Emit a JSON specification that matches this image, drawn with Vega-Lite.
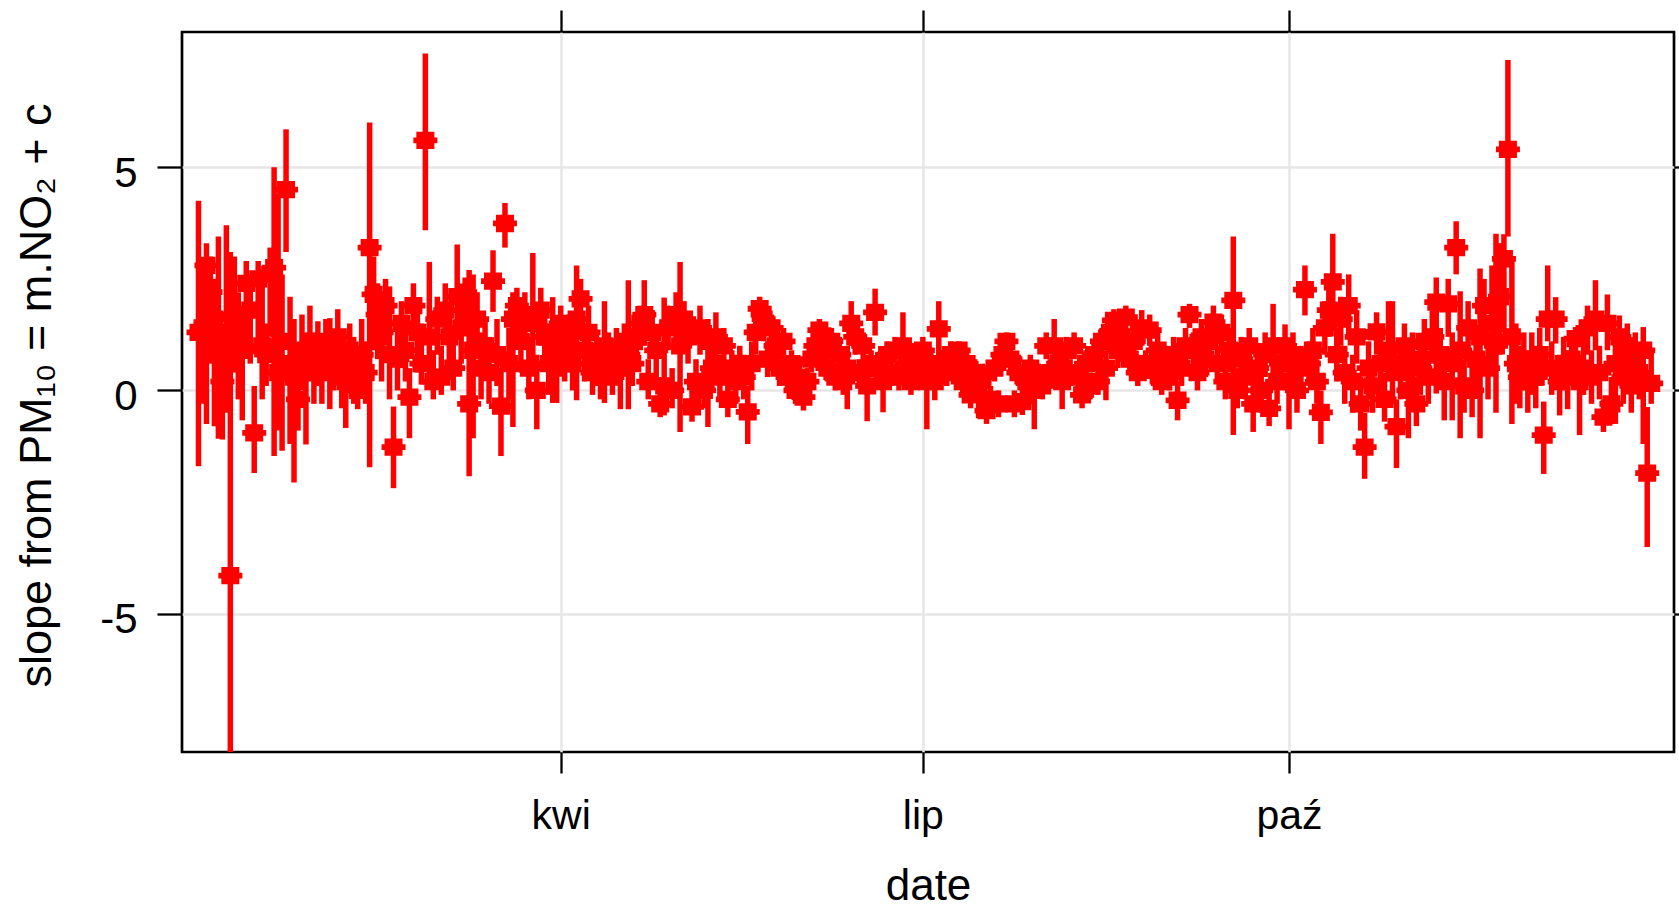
{
  "$schema": "https://vega.github.io/schema/vega-lite/v6.json",
  "width": 1492,
  "height": 720,
  "autosize": {"type": "none"},
  "padding": {"left": 182, "top": 32, "right": 5, "bottom": 160},
  "background": "white",
  "config": {
    "view": {"stroke": "black", "strokeWidth": 2.7},
    "font": "Liberation Sans",
    "axis": {
      "labelFont": "Liberation Sans",
      "titleFont": "Liberation Sans",
      "labelColor": "black",
      "titleColor": "black",
      "tickColor": "black",
      "tickWidth": 2.3,
      "domain": false,
      "gridColor": "#e6e6e6",
      "gridWidth": 2.5,
      "titleFontWeight": "normal",
      "labelOverlap": false,
      "labelFlush": false
    }
  },
  "data": {
    "values": [
      {"date":"2004-01-01","s":1.3,"lo":-1.7,"hi":4.25},
      {"date":"2004-01-02","s":1.4,"lo":-0.3,"hi":2.9},
      {"date":"2004-01-03","s":2.8,"lo":-0.75,"hi":3.3},
      {"date":"2004-01-04","s":2.2,"lo":0.6,"hi":3.0},
      {"date":"2004-01-05","s":1.6,"lo":-0.8,"hi":2.5},
      {"date":"2004-01-06","s":1.2,"lo":-1.08,"hi":3.45},
      {"date":"2004-01-07","s":0.2,"lo":-1.1,"hi":1.5},
      {"date":"2004-01-08","s":1.0,"lo":-0.5,"hi":3.7},
      {"date":"2004-01-09","s":-4.15,"lo":-8.5,"hi":3.1},
      {"date":"2004-01-10","s":1.7,"lo":0.4,"hi":3.0},
      {"date":"2004-01-11","s":1.3,"lo":-0.2,"hi":2.2},
      {"date":"2004-01-12","s":0.9,"lo":-0.67,"hi":1.8},
      {"date":"2004-01-13","s":2.4,"lo":1.0,"hi":2.9},
      {"date":"2004-01-14","s":1.8,"lo":0.6,"hi":2.6},
      {"date":"2004-01-15","s":-0.95,"lo":-1.85,"hi":0.1},
      {"date":"2004-01-16","s":2.5,"lo":0.9,"hi":2.9},
      {"date":"2004-01-17","s":1.0,"lo":-0.2,"hi":2.5},
      {"date":"2004-01-18","s":0.8,"lo":0.1,"hi":1.5},
      {"date":"2004-01-19","s":2.6,"lo":1.2,"hi":3.2},
      {"date":"2004-01-20","s":2.75,"lo":-1.47,"hi":5.0},
      {"date":"2004-01-21","s":0.4,"lo":-0.9,"hi":4.4},
      {"date":"2004-01-22","s":1.1,"lo":-1.35,"hi":2.6},
      {"date":"2004-01-23","s":4.5,"lo":3.1,"hi":5.85},
      {"date":"2004-01-24","s":0.6,"lo":-1.2,"hi":2.1},
      {"date":"2004-01-25","s":0.3,"lo":-2.06,"hi":1.6},
      {"date":"2004-01-26","s":-0.2,"lo":-0.9,"hi":0.9},
      {"date":"2004-01-27","s":0.9,"lo":0.0,"hi":1.7},
      {"date":"2004-01-28","s":0.5,"lo":-1.21,"hi":1.3},
      {"date":"2004-01-29","s":1.0,"lo":0.2,"hi":1.9},
      {"date":"2004-01-30","s":0.7,"lo":-0.3,"hi":1.3},
      {"date":"2004-01-31","s":0.9,"lo":0.1,"hi":1.55},
      {"date":"2004-02-01","s":0.4,"lo":-0.3,"hi":1.2},
      {"date":"2004-02-02","s":1.1,"lo":0.3,"hi":1.6},
      {"date":"2004-02-03","s":0.6,"lo":-0.42,"hi":1.62},
      {"date":"2004-02-04","s":0.9,"lo":0.0,"hi":1.3},
      {"date":"2004-02-05","s":1.2,"lo":0.4,"hi":1.82},
      {"date":"2004-02-06","s":0.3,"lo":-0.4,"hi":1.0},
      {"date":"2004-02-07","s":0.2,"lo":-0.84,"hi":0.9},
      {"date":"2004-02-08","s":0.9,"lo":0.2,"hi":1.5},
      {"date":"2004-02-09","s":0.6,"lo":-0.3,"hi":1.2},
      {"date":"2004-02-10","s":0.0,"lo":-0.42,"hi":0.8},
      {"date":"2004-02-11","s":0.8,"lo":0.0,"hi":1.6},
      {"date":"2004-02-12","s":0.4,"lo":-0.3,"hi":1.1},
      {"date":"2004-02-13","s":3.2,"lo":-1.72,"hi":6.0},
      {"date":"2004-02-14","s":2.15,"lo":0.9,"hi":3.0},
      {"date":"2004-02-15","s":1.7,"lo":0.7,"hi":2.4},
      {"date":"2004-02-16","s":1.3,"lo":0.2,"hi":2.0},
      {"date":"2004-02-17","s":1.9,"lo":1.0,"hi":2.5},
      {"date":"2004-02-18","s":0.8,"lo":-0.2,"hi":2.33},
      {"date":"2004-02-19","s":-1.27,"lo":-2.19,"hi":-0.36},
      {"date":"2004-02-20","s":0.7,"lo":0.0,"hi":1.5},
      {"date":"2004-02-21","s":1.5,"lo":0.5,"hi":2.0},
      {"date":"2004-02-22","s":0.9,"lo":0.2,"hi":1.7},
      {"date":"2004-02-23","s":-0.15,"lo":-1.07,"hi":0.5},
      {"date":"2004-02-24","s":1.9,"lo":1.1,"hi":2.4},
      {"date":"2004-02-25","s":1.3,"lo":0.4,"hi":1.9},
      {"date":"2004-02-26","s":0.6,"lo":0.13,"hi":1.5},
      {"date":"2004-02-27","s":5.6,"lo":3.59,"hi":7.55},
      {"date":"2004-02-28","s":1.2,"lo":0.3,"hi":2.88},
      {"date":"2004-02-29","s":0.2,"lo":-0.2,"hi":0.9},
      {"date":"2004-03-01","s":1.6,"lo":0.8,"hi":2.1},
      {"date":"2004-03-02","s":0.3,"lo":-0.1,"hi":1.0},
      {"date":"2004-03-03","s":1.8,"lo":1.1,"hi":2.4},
      {"date":"2004-03-04","s":1.2,"lo":0.5,"hi":1.9},
      {"date":"2004-03-05","s":0.5,"lo":0.0,"hi":1.3},
      {"date":"2004-03-06","s":2.1,"lo":1.2,"hi":3.27},
      {"date":"2004-03-07","s":1.4,"lo":0.6,"hi":2.0},
      {"date":"2004-03-08","s":2.2,"lo":1.3,"hi":2.53},
      {"date":"2004-03-09","s":-0.3,"lo":-1.92,"hi":2.7},
      {"date":"2004-03-10","s":0.9,"lo":-1.07,"hi":2.6},
      {"date":"2004-03-11","s":1.6,"lo":0.7,"hi":2.2},
      {"date":"2004-03-12","s":0.5,"lo":-0.2,"hi":1.3},
      {"date":"2004-03-13","s":1.0,"lo":0.3,"hi":1.6},
      {"date":"2004-03-14","s":0.4,"lo":-0.3,"hi":1.2},
      {"date":"2004-03-15","s":2.45,"lo":1.76,"hi":3.14},
      {"date":"2004-03-16","s":0.8,"lo":0.1,"hi":1.6},
      {"date":"2004-03-17","s":-0.35,"lo":-1.47,"hi":0.5},
      {"date":"2004-03-18","s":3.74,"lo":3.2,"hi":4.2},
      {"date":"2004-03-19","s":0.6,"lo":-0.2,"hi":1.4},
      {"date":"2004-03-20","s":1.6,"lo":-0.82,"hi":2.2},
      {"date":"2004-03-21","s":1.9,"lo":1.1,"hi":2.3},
      {"date":"2004-03-22","s":1.1,"lo":0.4,"hi":1.8},
      {"date":"2004-03-23","s":1.7,"lo":0.9,"hi":2.2},
      {"date":"2004-03-24","s":0.5,"lo":-0.2,"hi":1.2},
      {"date":"2004-03-25","s":1.5,"lo":0.6,"hi":3.08},
      {"date":"2004-03-26","s":0.0,"lo":-0.87,"hi":0.8},
      {"date":"2004-03-27","s":1.8,"lo":1.0,"hi":2.3},
      {"date":"2004-03-28","s":1.2,"lo":0.5,"hi":1.9},
      {"date":"2004-03-29","s":0.6,"lo":-0.1,"hi":1.5},
      {"date":"2004-03-30","s":1.1,"lo":-0.28,"hi":2.09},
      {"date":"2004-03-31","s":0.5,"lo":-0.28,"hi":1.4},
      {"date":"2004-04-01","s":1.5,"lo":0.7,"hi":1.9},
      {"date":"2004-04-02","s":0.8,"lo":0.2,"hi":1.6},
      {"date":"2004-04-03","s":1.2,"lo":0.4,"hi":1.7},
      {"date":"2004-04-04","s":0.6,"lo":0.0,"hi":1.5},
      {"date":"2004-04-05","s":1.6,"lo":-0.22,"hi":2.8},
      {"date":"2004-04-06","s":2.05,"lo":1.2,"hi":2.5},
      {"date":"2004-04-07","s":0.9,"lo":0.2,"hi":1.5},
      {"date":"2004-04-08","s":1.3,"lo":0.5,"hi":1.9},
      {"date":"2004-04-09","s":0.4,"lo":-0.1,"hi":1.0},
      {"date":"2004-04-10","s":0.7,"lo":0.1,"hi":1.3},
      {"date":"2004-04-11","s":0.4,"lo":-0.2,"hi":0.9},
      {"date":"2004-04-12","s":1.0,"lo":-0.28,"hi":2.0},
      {"date":"2004-04-13","s":0.7,"lo":0.2,"hi":1.3},
      {"date":"2004-04-14","s":0.3,"lo":-0.1,"hi":0.8},
      {"date":"2004-04-15","s":0.9,"lo":0.4,"hi":1.4},
      {"date":"2004-04-16","s":0.5,"lo":-0.42,"hi":1.1},
      {"date":"2004-04-17","s":1.1,"lo":0.5,"hi":1.5},
      {"date":"2004-04-18","s":0.8,"lo":-0.42,"hi":2.47},
      {"date":"2004-04-19","s":0.6,"lo":0.1,"hi":1.2},
      {"date":"2004-04-20","s":1.2,"lo":0.6,"hi":1.7},
      {"date":"2004-04-21","s":1.5,"lo":0.9,"hi":1.9},
      {"date":"2004-04-22","s":1.7,"lo":1.0,"hi":2.47},
      {"date":"2004-04-23","s":0.2,"lo":-0.2,"hi":0.7},
      {"date":"2004-04-24","s":1.3,"lo":0.7,"hi":1.8},
      {"date":"2004-04-25","s":0.9,"lo":0.3,"hi":1.4},
      {"date":"2004-04-26","s":-0.3,"lo":-0.6,"hi":0.3},
      {"date":"2004-04-27","s":0.1,"lo":-0.56,"hi":2.08},
      {"date":"2004-04-28","s":1.4,"lo":0.9,"hi":1.9},
      {"date":"2004-04-29","s":0.0,"lo":-0.4,"hi":0.5},
      {"date":"2004-04-30","s":1.7,"lo":1.1,"hi":2.2},
      {"date":"2004-05-01","s":1.0,"lo":-0.93,"hi":2.88},
      {"date":"2004-05-02","s":1.6,"lo":1.1,"hi":2.0},
      {"date":"2004-05-03","s":1.2,"lo":0.6,"hi":1.6},
      {"date":"2004-05-04","s":-0.37,"lo":-0.7,"hi":0.2},
      {"date":"2004-05-05","s":0.2,"lo":-0.3,"hi":0.7},
      {"date":"2004-05-06","s":1.4,"lo":0.8,"hi":1.9},
      {"date":"2004-05-07","s":0.0,"lo":-0.4,"hi":0.5},
      {"date":"2004-05-08","s":1.1,"lo":-0.82,"hi":1.6},
      {"date":"2004-05-09","s":0.5,"lo":0.0,"hi":1.0},
      {"date":"2004-05-10","s":1.2,"lo":0.6,"hi":1.75},
      {"date":"2004-05-11","s":0.3,"lo":-0.2,"hi":0.8},
      {"date":"2004-05-12","s":1.0,"lo":0.5,"hi":1.4},
      {"date":"2004-05-13","s":-0.2,"lo":-0.6,"hi":0.4},
      {"date":"2004-05-14","s":0.5,"lo":0.0,"hi":0.9},
      {"date":"2004-05-15","s":0.2,"lo":-0.3,"hi":0.8},
      {"date":"2004-05-16","s":0.6,"lo":0.1,"hi":1.0},
      {"date":"2004-05-17","s":0.3,"lo":-0.2,"hi":0.8},
      {"date":"2004-05-18","s":-0.48,"lo":-1.2,"hi":0.1},
      {"date":"2004-05-19","s":0.6,"lo":0.0,"hi":1.1},
      {"date":"2004-05-20","s":1.3,"lo":0.8,"hi":1.7},
      {"date":"2004-05-21","s":1.83,"lo":1.4,"hi":2.1},
      {"date":"2004-05-22","s":1.6,"lo":1.1,"hi":1.9},
      {"date":"2004-05-23","s":0.7,"lo":0.3,"hi":1.1},
      {"date":"2004-05-24","s":1.4,"lo":1.0,"hi":1.7},
      {"date":"2004-05-25","s":1.0,"lo":0.5,"hi":1.3},
      {"date":"2004-05-26","s":0.5,"lo":0.1,"hi":0.9},
      {"date":"2004-05-27","s":1.1,"lo":0.7,"hi":1.4},
      {"date":"2004-05-28","s":0.3,"lo":0.0,"hi":0.7},
      {"date":"2004-05-29","s":0.6,"lo":0.2,"hi":0.9},
      {"date":"2004-05-30","s":0.0,"lo":-0.3,"hi":0.4},
      {"date":"2004-05-31","s":0.3,"lo":0.0,"hi":0.6},
      {"date":"2004-06-01","s":-0.15,"lo":-0.45,"hi":0.2},
      {"date":"2004-06-02","s":0.2,"lo":-0.1,"hi":0.5},
      {"date":"2004-06-03","s":0.7,"lo":0.4,"hi":1.0},
      {"date":"2004-06-04","s":1.0,"lo":0.6,"hi":1.3},
      {"date":"2004-06-05","s":1.35,"lo":1.0,"hi":1.6},
      {"date":"2004-06-06","s":0.9,"lo":0.5,"hi":1.2},
      {"date":"2004-06-07","s":0.5,"lo":0.2,"hi":0.8},
      {"date":"2004-06-08","s":1.1,"lo":0.7,"hi":1.4},
      {"date":"2004-06-09","s":0.3,"lo":0.0,"hi":0.6},
      {"date":"2004-06-10","s":0.8,"lo":0.4,"hi":1.2},
      {"date":"2004-06-11","s":0.2,"lo":-0.1,"hi":0.5},
      {"date":"2004-06-12","s":0.5,"lo":-0.42,"hi":1.0},
      {"date":"2004-06-13","s":1.5,"lo":1.0,"hi":2.0},
      {"date":"2004-06-14","s":1.2,"lo":0.8,"hi":1.6},
      {"date":"2004-06-15","s":0.4,"lo":0.1,"hi":0.7},
      {"date":"2004-06-16","s":1.0,"lo":0.6,"hi":1.3},
      {"date":"2004-06-17","s":0.1,"lo":-0.69,"hi":0.6},
      {"date":"2004-06-18","s":0.6,"lo":0.3,"hi":0.9},
      {"date":"2004-06-19","s":1.75,"lo":1.23,"hi":2.28},
      {"date":"2004-06-20","s":0.5,"lo":0.2,"hi":0.8},
      {"date":"2004-06-21","s":0.2,"lo":-0.49,"hi":0.6},
      {"date":"2004-06-22","s":0.8,"lo":0.5,"hi":1.1},
      {"date":"2004-06-23","s":0.4,"lo":0.1,"hi":0.7},
      {"date":"2004-06-24","s":0.9,"lo":0.6,"hi":1.2},
      {"date":"2004-06-25","s":0.3,"lo":0.0,"hi":0.6},
      {"date":"2004-06-26","s":1.0,"lo":0.2,"hi":1.75},
      {"date":"2004-06-27","s":0.6,"lo":0.3,"hi":0.9},
      {"date":"2004-06-28","s":0.2,"lo":-0.1,"hi":0.5},
      {"date":"2004-06-29","s":0.7,"lo":0.4,"hi":1.0},
      {"date":"2004-06-30","s":0.4,"lo":0.1,"hi":0.7},
      {"date":"2004-07-01","s":0.9,"lo":0.6,"hi":1.2},
      {"date":"2004-07-02","s":0.2,"lo":-0.87,"hi":0.6},
      {"date":"2004-07-03","s":0.6,"lo":0.3,"hi":0.9},
      {"date":"2004-07-04","s":0.2,"lo":-0.22,"hi":0.7},
      {"date":"2004-07-05","s":1.38,"lo":0.4,"hi":2.0},
      {"date":"2004-07-06","s":0.6,"lo":0.3,"hi":0.9},
      {"date":"2004-07-07","s":0.4,"lo":0.1,"hi":0.7},
      {"date":"2004-07-08","s":0.8,"lo":0.5,"hi":1.1},
      {"date":"2004-07-09","s":0.5,"lo":0.2,"hi":0.8},
      {"date":"2004-07-10","s":0.9,"lo":0.6,"hi":1.1},
      {"date":"2004-07-11","s":0.2,"lo":-0.1,"hi":0.5},
      {"date":"2004-07-12","s":0.6,"lo":0.3,"hi":0.9},
      {"date":"2004-07-13","s":-0.1,"lo":-0.4,"hi":0.2},
      {"date":"2004-07-14","s":0.4,"lo":0.1,"hi":0.7},
      {"date":"2004-07-15","s":0.1,"lo":-0.62,"hi":0.5},
      {"date":"2004-07-16","s":0.3,"lo":0.0,"hi":0.6},
      {"date":"2004-07-17","s":-0.45,"lo":-0.75,"hi":-0.1},
      {"date":"2004-07-18","s":-0.2,"lo":-0.5,"hi":0.1},
      {"date":"2004-07-19","s":0.5,"lo":0.2,"hi":0.8},
      {"date":"2004-07-20","s":-0.3,"lo":-0.6,"hi":0.0},
      {"date":"2004-07-21","s":0.8,"lo":0.5,"hi":1.1},
      {"date":"2004-07-22","s":1.1,"lo":0.8,"hi":1.3},
      {"date":"2004-07-23","s":0.7,"lo":0.4,"hi":1.0},
      {"date":"2004-07-24","s":-0.3,"lo":-0.6,"hi":0.0},
      {"date":"2004-07-25","s":0.4,"lo":0.1,"hi":0.8},
      {"date":"2004-07-26","s":-0.25,"lo":-0.55,"hi":0.1},
      {"date":"2004-07-27","s":0.2,"lo":-0.1,"hi":0.5},
      {"date":"2004-07-28","s":0.5,"lo":0.2,"hi":0.8},
      {"date":"2004-07-29","s":0.0,"lo":-0.87,"hi":0.4},
      {"date":"2004-07-30","s":0.3,"lo":0.0,"hi":0.6},
      {"date":"2004-07-31","s":0.1,"lo":-0.2,"hi":0.4},
      {"date":"2004-08-01","s":1.0,"lo":0.7,"hi":1.3},
      {"date":"2004-08-02","s":0.4,"lo":0.1,"hi":0.7},
      {"date":"2004-08-03","s":1.0,"lo":0.5,"hi":1.6},
      {"date":"2004-08-04","s":0.6,"lo":0.3,"hi":0.9},
      {"date":"2004-08-05","s":0.2,"lo":-0.42,"hi":0.6},
      {"date":"2004-08-06","s":0.9,"lo":0.6,"hi":1.2},
      {"date":"2004-08-07","s":0.4,"lo":0.1,"hi":0.7},
      {"date":"2004-08-08","s":1.0,"lo":0.7,"hi":1.3},
      {"date":"2004-08-09","s":0.3,"lo":0.0,"hi":0.6},
      {"date":"2004-08-10","s":-0.1,"lo":-0.4,"hi":0.2},
      {"date":"2004-08-11","s":0.6,"lo":0.3,"hi":0.9},
      {"date":"2004-08-12","s":0.1,"lo":-0.2,"hi":0.4},
      {"date":"2004-08-13","s":0.8,"lo":0.5,"hi":1.1},
      {"date":"2004-08-14","s":0.2,"lo":-0.1,"hi":0.5},
      {"date":"2004-08-15","s":1.1,"lo":0.8,"hi":1.4},
      {"date":"2004-08-16","s":0.5,"lo":-0.22,"hi":0.9},
      {"date":"2004-08-17","s":1.3,"lo":1.0,"hi":1.6},
      {"date":"2004-08-18","s":1.57,"lo":1.2,"hi":1.82},
      {"date":"2004-08-19","s":0.9,"lo":0.5,"hi":1.3},
      {"date":"2004-08-20","s":1.2,"lo":0.8,"hi":1.5},
      {"date":"2004-08-21","s":1.64,"lo":1.3,"hi":1.9},
      {"date":"2004-08-22","s":0.7,"lo":0.4,"hi":1.1},
      {"date":"2004-08-23","s":1.1,"lo":0.7,"hi":1.5},
      {"date":"2004-08-24","s":0.4,"lo":0.1,"hi":0.8},
      {"date":"2004-08-25","s":1.4,"lo":1.0,"hi":1.8},
      {"date":"2004-08-26","s":0.6,"lo":0.3,"hi":0.9},
      {"date":"2004-08-27","s":1.35,"lo":1.0,"hi":1.7},
      {"date":"2004-08-28","s":0.45,"lo":0.1,"hi":0.8},
      {"date":"2004-08-29","s":0.9,"lo":0.5,"hi":1.3},
      {"date":"2004-08-30","s":0.2,"lo":-0.1,"hi":0.6},
      {"date":"2004-08-31","s":0.7,"lo":0.3,"hi":1.0},
      {"date":"2004-09-01","s":0.3,"lo":0.0,"hi":0.7},
      {"date":"2004-09-02","s":0.8,"lo":0.4,"hi":1.2},
      {"date":"2004-09-03","s":-0.22,"lo":-0.67,"hi":0.2},
      {"date":"2004-09-04","s":0.5,"lo":0.1,"hi":0.9},
      {"date":"2004-09-05","s":1.0,"lo":0.6,"hi":1.4},
      {"date":"2004-09-06","s":1.7,"lo":1.4,"hi":1.94},
      {"date":"2004-09-07","s":0.9,"lo":0.5,"hi":1.3},
      {"date":"2004-09-08","s":0.4,"lo":0.0,"hi":0.8},
      {"date":"2004-09-09","s":1.2,"lo":0.8,"hi":1.6},
      {"date":"2004-09-10","s":0.7,"lo":0.3,"hi":1.1},
      {"date":"2004-09-11","s":1.1,"lo":0.7,"hi":1.5},
      {"date":"2004-09-12","s":1.53,"lo":1.1,"hi":1.9},
      {"date":"2004-09-13","s":0.6,"lo":0.2,"hi":1.0},
      {"date":"2004-09-14","s":1.3,"lo":0.9,"hi":1.7},
      {"date":"2004-09-15","s":0.2,"lo":-0.2,"hi":0.7},
      {"date":"2004-09-16","s":0.9,"lo":0.4,"hi":1.4},
      {"date":"2004-09-17","s":2.02,"lo":-1.0,"hi":3.45},
      {"date":"2004-09-18","s":0.0,"lo":-0.4,"hi":0.5},
      {"date":"2004-09-19","s":0.7,"lo":0.2,"hi":1.2},
      {"date":"2004-09-20","s":0.3,"lo":-0.2,"hi":0.8},
      {"date":"2004-09-21","s":1.0,"lo":0.5,"hi":1.4},
      {"date":"2004-09-22","s":-0.3,"lo":-0.93,"hi":0.3},
      {"date":"2004-09-23","s":0.5,"lo":0.0,"hi":1.0},
      {"date":"2004-09-24","s":0.0,"lo":-0.5,"hi":0.5},
      {"date":"2004-09-25","s":0.8,"lo":0.3,"hi":1.3},
      {"date":"2004-09-26","s":-0.4,"lo":-0.8,"hi":0.1},
      {"date":"2004-09-27","s":1.0,"lo":0.3,"hi":1.94},
      {"date":"2004-09-28","s":0.2,"lo":-0.3,"hi":0.7},
      {"date":"2004-09-29","s":0.6,"lo":0.1,"hi":1.1},
      {"date":"2004-09-30","s":1.0,"lo":0.4,"hi":1.48},
      {"date":"2004-10-01","s":0.2,"lo":-0.87,"hi":0.8},
      {"date":"2004-10-02","s":0.8,"lo":0.3,"hi":1.3},
      {"date":"2004-10-03","s":0.0,"lo":-0.5,"hi":0.5},
      {"date":"2004-10-04","s":0.5,"lo":0.0,"hi":1.0},
      {"date":"2004-10-05","s":2.26,"lo":1.68,"hi":2.8},
      {"date":"2004-10-06","s":0.6,"lo":0.1,"hi":1.1},
      {"date":"2004-10-07","s":0.9,"lo":0.3,"hi":1.4},
      {"date":"2004-10-08","s":0.2,"lo":-0.3,"hi":0.7},
      {"date":"2004-10-09","s":-0.49,"lo":-1.2,"hi":0.0},
      {"date":"2004-10-10","s":1.4,"lo":0.8,"hi":2.0},
      {"date":"2004-10-11","s":1.8,"lo":1.2,"hi":2.3},
      {"date":"2004-10-12","s":2.43,"lo":1.8,"hi":3.51},
      {"date":"2004-10-13","s":0.8,"lo":0.2,"hi":1.4},
      {"date":"2004-10-14","s":1.6,"lo":1.0,"hi":2.1},
      {"date":"2004-10-15","s":0.4,"lo":-0.3,"hi":1.0},
      {"date":"2004-10-16","s":1.9,"lo":1.2,"hi":2.6},
      {"date":"2004-10-17","s":0.2,"lo":-0.5,"hi":0.8},
      {"date":"2004-10-18","s":1.2,"lo":0.6,"hi":1.8},
      {"date":"2004-10-19","s":-0.3,"lo":-0.9,"hi":0.3},
      {"date":"2004-10-20","s":-1.27,"lo":-1.98,"hi":-0.5},
      {"date":"2004-10-21","s":0.5,"lo":-0.2,"hi":1.1},
      {"date":"2004-10-22","s":0.1,"lo":-0.5,"hi":0.7},
      {"date":"2004-10-23","s":1.31,"lo":0.8,"hi":1.75},
      {"date":"2004-10-24","s":0.6,"lo":0.0,"hi":1.2},
      {"date":"2004-10-25","s":-0.2,"lo":-0.7,"hi":0.4},
      {"date":"2004-10-26","s":0.9,"lo":0.2,"hi":2.0},
      {"date":"2004-10-27","s":0.6,"lo":-0.3,"hi":2.0},
      {"date":"2004-10-28","s":-0.81,"lo":-1.74,"hi":-0.2},
      {"date":"2004-10-29","s":0.4,"lo":-0.2,"hi":1.0},
      {"date":"2004-10-30","s":1.0,"lo":0.4,"hi":1.5},
      {"date":"2004-10-31","s":0.0,"lo":-1.07,"hi":0.6},
      {"date":"2004-11-01","s":0.7,"lo":0.1,"hi":1.3},
      {"date":"2004-11-02","s":-0.3,"lo":-0.8,"hi":0.3},
      {"date":"2004-11-03","s":0.5,"lo":-0.1,"hi":1.1},
      {"date":"2004-11-04","s":1.1,"lo":0.5,"hi":1.6},
      {"date":"2004-11-05","s":0.3,"lo":-0.3,"hi":0.9},
      {"date":"2004-11-06","s":1.2,"lo":0.6,"hi":1.8},
      {"date":"2004-11-07","s":1.98,"lo":-0.07,"hi":2.53},
      {"date":"2004-11-08","s":0.8,"lo":0.2,"hi":1.4},
      {"date":"2004-11-09","s":0.2,"lo":-0.67,"hi":0.9},
      {"date":"2004-11-10","s":1.94,"lo":1.2,"hi":2.5},
      {"date":"2004-11-11","s":0.6,"lo":-0.67,"hi":1.3},
      {"date":"2004-11-12","s":3.2,"lo":2.6,"hi":3.79},
      {"date":"2004-11-13","s":0.9,"lo":-1.07,"hi":2.22},
      {"date":"2004-11-14","s":0.1,"lo":-0.5,"hi":0.7},
      {"date":"2004-11-15","s":1.4,"lo":0.7,"hi":2.0},
      {"date":"2004-11-16","s":0.0,"lo":-0.6,"hi":0.6},
      {"date":"2004-11-17","s":0.7,"lo":0.1,"hi":1.3},
      {"date":"2004-11-18","s":1.2,"lo":-1.07,"hi":2.73},
      {"date":"2004-11-19","s":1.9,"lo":1.2,"hi":2.5},
      {"date":"2004-11-20","s":0.5,"lo":-0.2,"hi":1.3},
      {"date":"2004-11-21","s":1.5,"lo":0.5,"hi":2.8},
      {"date":"2004-11-22","s":1.0,"lo":-0.5,"hi":3.51},
      {"date":"2004-11-23","s":2.1,"lo":0.8,"hi":3.3},
      {"date":"2004-11-24","s":2.95,"lo":1.3,"hi":3.5},
      {"date":"2004-11-25","s":5.4,"lo":3.45,"hi":7.4},
      {"date":"2004-11-26","s":1.2,"lo":-0.75,"hi":3.0},
      {"date":"2004-11-27","s":0.6,"lo":-0.3,"hi":1.5},
      {"date":"2004-11-28","s":0.3,"lo":-0.4,"hi":1.0},
      {"date":"2004-11-29","s":0.7,"lo":0.0,"hi":1.3},
      {"date":"2004-11-30","s":0.2,"lo":-0.5,"hi":0.9},
      {"date":"2004-12-01","s":0.6,"lo":-0.1,"hi":1.3},
      {"date":"2004-12-02","s":0.3,"lo":-0.4,"hi":1.0},
      {"date":"2004-12-03","s":0.8,"lo":0.1,"hi":1.4},
      {"date":"2004-12-04","s":-1.0,"lo":-1.87,"hi":-0.25},
      {"date":"2004-12-05","s":1.6,"lo":1.1,"hi":2.8},
      {"date":"2004-12-06","s":0.5,"lo":-0.1,"hi":1.1},
      {"date":"2004-12-07","s":1.6,"lo":1.05,"hi":2.09},
      {"date":"2004-12-08","s":0.2,"lo":-0.56,"hi":0.8},
      {"date":"2004-12-09","s":0.6,"lo":0.0,"hi":1.2},
      {"date":"2004-12-10","s":0.3,"lo":-0.42,"hi":0.9},
      {"date":"2004-12-11","s":0.7,"lo":0.1,"hi":1.2},
      {"date":"2004-12-12","s":1.16,"lo":0.6,"hi":1.42},
      {"date":"2004-12-13","s":0.2,"lo":-1.0,"hi":0.8},
      {"date":"2004-12-14","s":0.5,"lo":-0.1,"hi":1.1},
      {"date":"2004-12-15","s":1.4,"lo":0.8,"hi":1.9},
      {"date":"2004-12-16","s":0.3,"lo":-0.3,"hi":0.9},
      {"date":"2004-12-17","s":1.6,"lo":0.9,"hi":2.47},
      {"date":"2004-12-18","s":0.4,"lo":-0.2,"hi":1.0},
      {"date":"2004-12-19","s":-0.6,"lo":-0.93,"hi":-0.2},
      {"date":"2004-12-20","s":1.5,"lo":0.9,"hi":2.15},
      {"date":"2004-12-21","s":-0.3,"lo":-0.75,"hi":0.3},
      {"date":"2004-12-22","s":0.6,"lo":-0.75,"hi":1.2},
      {"date":"2004-12-23","s":1.2,"lo":0.6,"hi":1.68},
      {"date":"2004-12-24","s":0.3,"lo":-0.3,"hi":0.9},
      {"date":"2004-12-25","s":1.0,"lo":0.4,"hi":1.5},
      {"date":"2004-12-26","s":0.1,"lo":-0.5,"hi":0.7},
      {"date":"2004-12-27","s":0.8,"lo":0.2,"hi":1.3},
      {"date":"2004-12-28","s":0.4,"lo":-0.2,"hi":1.0},
      {"date":"2004-12-29","s":0.9,"lo":-1.2,"hi":1.42},
      {"date":"2004-12-30","s":-1.85,"lo":-3.51,"hi":-0.37},
      {"date":"2004-12-31","s":0.16,"lo":-0.3,"hi":0.9}
    ]
  },
  "resolve": {"axis": {"x": "independent", "y": "independent"}},
  "layer": [
    {
      "mark": {"type": "rule", "color": "#ff0000", "strokeWidth": 5.5, "clip": true},
      "encoding": {
        "x": {
          "field": "date",
          "type": "temporal",
          "scale": {
            "type": "utc",
            "domain": [
              {"year": 2003, "month": 12, "date": 27, "hours": 20, "minutes": 30, "utc": true},
              {"year": 2005, "month": 1, "date": 5, "hours": 17, "minutes": 30, "utc": true}
            ]
          },
          "axis": {
            "orient": "bottom",
            "values": [
              {"year": 2004, "month": 4, "date": 1, "utc": true},
              {"year": 2004, "month": 7, "date": 1, "utc": true},
              {"year": 2004, "month": 10, "date": 1, "utc": true}
            ],
            "labelExpr": "['sty','lut','mar','kwi','maj','cze','lip','sie','wrz','paź','lis','gru'][utcmonth(datum.value)]",
            "tickSize": 21,
            "labelPadding": 23,
            "labelFontSize": 41,
            "labelAngle": 0,
            "grid": true,
            "title": "date",
            "titleFontSize": 44,
            "titleBaseline": "top",
            "titleY": 112
          }
        },
        "y": {
          "field": "lo",
          "type": "quantitative",
          "scale": {"domain": [-8.1, 8.03], "nice": false, "zero": false},
          "axis": {
            "orient": "left",
            "values": [-5, 0, 5],
            "labelExpr": "'' + datum.value",
            "tickSize": 25,
            "labelPadding": 20,
            "labelFontSize": 42,
            "labelBaseline": "middle",
            "labelOffset": 6,
            "grid": true,
            "title": "slope from PM₁₀ = m.NO₂ + c",
            "titleFontSize": 45,
            "titleAngle": 270,
            "titleBaseline": "alphabetic",
            "titleAlign": "center",
            "titleX": -132,
            "titleY": 363
          }
        },
        "y2": {"field": "hi"}
      }
    },
    {
      "mark": {
        "type": "point",
        "shape": "M -0.75 -0.72 L 0.75 -0.72 L 0.75 -0.24 L 1 -0.24 L 1 0.24 L 0.75 0.24 L 0.75 0.72 L -0.75 0.72 L -0.75 0.24 L -1 0.24 L -1 -0.24 L -0.75 -0.24 Z",
        "filled": true,
        "color": "#ff0000",
        "opacity": 1,
        "size": 576,
        "strokeWidth": 0,
        "clip": true
      },
      "encoding": {
        "x": {
          "field": "date",
          "type": "temporal",
          "axis": {
            "orient": "top",
            "values": [
              {"year": 2004, "month": 4, "date": 1, "utc": true},
              {"year": 2004, "month": 7, "date": 1, "utc": true},
              {"year": 2004, "month": 10, "date": 1, "utc": true}
            ],
            "tickSize": 22,
            "labels": false,
            "grid": false,
            "title": null
          }
        },
        "y": {
          "field": "s",
          "type": "quantitative",
          "axis": {
            "orient": "right",
            "values": [-5, 0, 5],
            "tickSize": 25,
            "labels": false,
            "grid": false,
            "title": null
          }
        }
      }
    }
  ]
}
